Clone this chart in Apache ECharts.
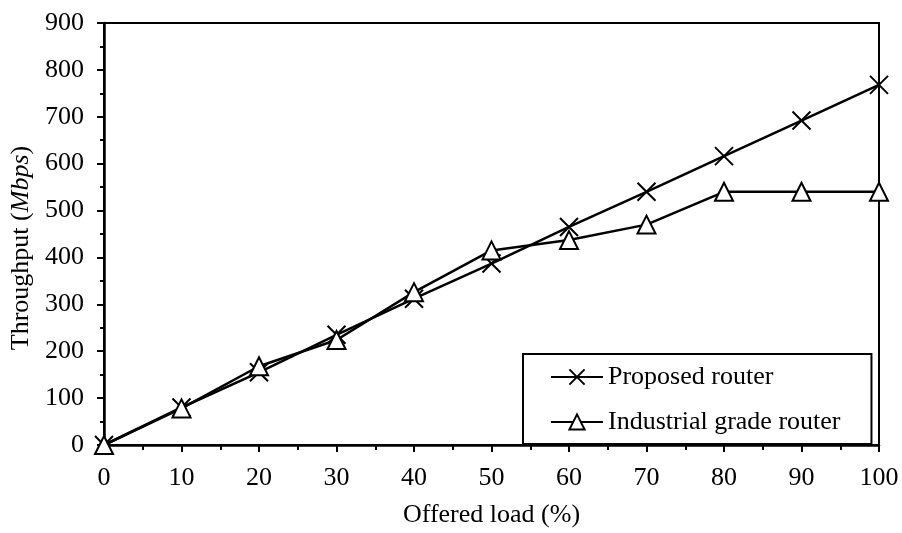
<!DOCTYPE html>
<html>
<head>
<meta charset="utf-8">
<script src="https://cdn.jsdelivr.net/npm/echarts@6/dist/echarts.min.js"></script>
<style>
  html, body { margin: 0; padding: 0; background: #fff; }
  #chart { width: 902px; height: 533px; }
</style>
</head>
<body>
<div id="chart"></div>
<script>
var loads = [0, 10, 20, 30, 40, 50, 60, 70, 80, 90, 100];
var proposed = [0, 80, 155, 235, 312, 387, 465, 540, 616, 692, 768];
var industrial = [0, 78, 168, 224, 326, 415, 437, 470, 540, 540, 540];
var seriesNames = ['Proposed router', 'Industrial grade router'];

var FONT = '"Liberation Serif", "Times New Roman", serif';
var CROSS = 'path://M0,0L10,10M10,0L0,10';

function pairs(xs, ys) {
    var out = [];
    for (var i = 0; i < xs.length; i++) {
        out.push([xs[i], ys[i]]);
    }
    return out;
}

var myChart = echarts.init(document.getElementById('chart'));
var option = {
    animation: false,
    backgroundColor: '#fff',
    textStyle: { fontFamily: FONT, color: '#000' },
    grid: {
        left: 104, right: 23, top: 23, bottom: 82,
        show: true, borderColor: '#000', borderWidth: 2, backgroundColor: 'transparent'
    },
    legend: {
        orient: 'vertical',
        left: 523, top: 354,
        padding: [10, 31, 9, 27],
        itemGap: 19,
        itemWidth: 52,
        itemHeight: 19,
        borderColor: '#000',
        borderWidth: 2,
        backgroundColor: '#fff',
        textStyle: { fontFamily: FONT, fontSize: 26, color: '#000' },
        data: seriesNames
    },
    xAxis: {
        type: 'value',
        min: 0, max: 100, interval: 10,
        name: 'Offered load (%)',
        nameLocation: 'middle',
        nameGap: 57,
        nameTextStyle: { fontFamily: FONT, fontSize: 26, color: '#000' },
        axisLine: { lineStyle: { color: '#000', width: 2.5 } },
        axisTick: { inside: false, length: 7, lineStyle: { color: '#000', width: 2 } },
        minorTick: { show: true, splitNumber: 2, length: 5, lineStyle: { color: '#000', width: 2 } },
        axisLabel: { margin: 20, fontFamily: FONT, fontSize: 26, color: '#000' },
        splitLine: { show: false }
    },
    yAxis: {
        type: 'value',
        min: 0, max: 900, interval: 100,
        name: 'Throughput ({i|Mbps})',
        nameLocation: 'middle',
        nameGap: 70,
        nameTextStyle: {
            fontFamily: FONT, fontSize: 26, color: '#000',
            padding: [0, 28, 0, 0],
            rich: { i: { fontFamily: FONT, fontSize: 26, fontStyle: 'italic', color: '#000' } }
        },
        axisLine: { show: true, lineStyle: { color: '#000', width: 2.5 } },
        axisTick: { show: true, inside: false, length: 7, lineStyle: { color: '#000', width: 2 } },
        minorTick: { show: true, splitNumber: 2, length: 4, lineStyle: { color: '#000', width: 2 } },
        axisLabel: { margin: 20, fontFamily: FONT, fontSize: 26, color: '#000' },
        splitLine: { show: false }
    },
    series: [
        {
            name: seriesNames[0],
            type: 'line',
            data: pairs(loads, proposed),
            symbol: CROSS,
            symbolSize: 18,
            lineStyle: { color: '#000', width: 2.5 },
            itemStyle: { color: '#fff', borderColor: '#000', borderWidth: 2 }
        },
        {
            name: seriesNames[1],
            type: 'line',
            data: pairs(loads, industrial),
            symbol: 'triangle',
            symbolSize: 18,
            lineStyle: { color: '#000', width: 2.5 },
            itemStyle: { color: '#fff', borderColor: '#000', borderWidth: 2 }
        }
    ]
};
myChart.setOption(option);
</script>
</body>
</html>
